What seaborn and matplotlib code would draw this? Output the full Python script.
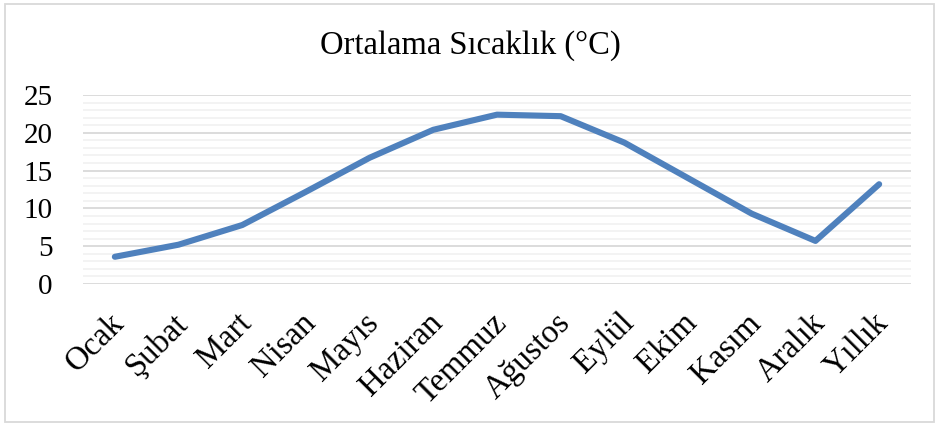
import matplotlib
matplotlib.use("Agg")
import matplotlib.pyplot as plt
import matplotlib.transforms as mtransforms
import seaborn as sns
import pandas as pd
from matplotlib.patches import Rectangle
from matplotlib.ticker import MultipleLocator

aylar = ["Ocak", "Şubat", "Mart", "Nisan", "Mayıs", "Haziran", "Temmuz",
         "Ağustos", "Eylül", "Ekim", "Kasım", "Aralık", "Yıllık"]
sicaklik = [3.6, 5.2, 7.8, 12.2, 16.7, 20.4, 22.4, 22.2, 18.7, 14.0, 9.3, 5.7, 13.2]
y_ticks = [0, 5, 10, 15, 20, 25]
baslik = "Ortalama Sıcaklık (°C)"

sns.set_theme(style="white")
plt.rcParams["font.family"] = ["Liberation Serif", "DejaVu Serif"]

df = pd.DataFrame({"Ay": aylar, "Sıcaklık": sicaklik})

fig = plt.figure(figsize=(9.4, 4.26), dpi=100)
ax = fig.add_axes([83/940, 1 - 284/426, (911 - 83)/940, (284 - 95)/426])

sns.lineplot(data=df, x="Ay", y="Sıcaklık", sort=False, ax=ax,
             color="#4F81BD", linewidth=4.4, solid_capstyle="round",
             solid_joinstyle="round")

ax.set_xlim(-0.5, len(aylar) - 0.5)
ax.set_ylim(0, 25)
ax.set_yticks(y_ticks)
ax.yaxis.set_minor_locator(MultipleLocator(1))
ax.grid(axis="y", which="major", color="#D9D9D9", linewidth=1.3, zorder=0)
ax.grid(axis="y", which="minor", color="#F2F2F2", linewidth=1.3, zorder=0)
ax.grid(axis="x", visible=False)
ax.set_axisbelow(True)
for s in ax.spines.values():
    s.set_visible(False)
ax.tick_params(axis="both", which="both", length=0)
ax.tick_params(axis="y", labelsize=21, pad=22, colors="black")
ax.set_xticks(range(len(aylar)))
ax.set_xticklabels(aylar, rotation=45, ha="right", rotation_mode="anchor",
                   fontsize=23.5, color="black")
ax.tick_params(axis="x", pad=17)
shift = mtransforms.ScaledTranslation(-6/100, 0, fig.dpi_scale_trans)
for lbl in ax.get_xticklabels():
    lbl.set_transform(lbl.get_transform() + shift)
ax.set_xlabel("")
ax.set_ylabel("")

fig.text(0.5, 1 - 46/426, baslik, ha="center", va="center", fontsize=23.5, color="black")

fig.patches.append(Rectangle((5/940, 4/426), 929/940, 418/426, transform=fig.transFigure,
                             fill=False, edgecolor="#D9D9D9", linewidth=1.3))

fig.savefig("out.png", dpi=100, facecolor="white")
